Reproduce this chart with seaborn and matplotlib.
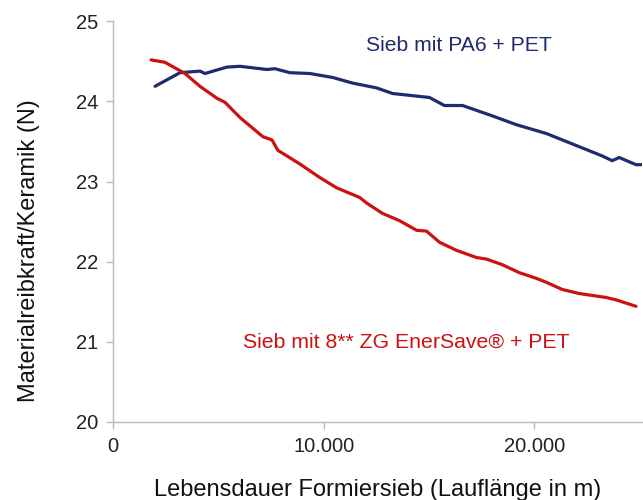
import numpy as np
import pandas as pd
import seaborn as sns
import matplotlib.pyplot as plt

# Lauflänge (m) and Materialreibkraft (N)
pa6_x = [1990, 3175, 4120, 4360, 5400, 6020, 7300, 7680, 8390, 9340, 10430,
         11370, 12510, 13270, 15020, 15730, 16590, 18010, 19150, 20570, 21800,
         23220, 23700, 24030, 24830, 25120]
pa6_y = [24.19, 24.36, 24.38, 24.35, 24.43, 24.44, 24.40, 24.41, 24.36, 24.35, 24.30,
         24.23, 24.17, 24.10, 24.05, 23.95, 23.95, 23.82, 23.71, 23.60, 23.47,
         23.32, 23.26, 23.30, 23.21, 23.21]

zg_x = [1800, 2460, 3410, 4120, 4930, 5310, 6020, 7110, 7540, 7820, 8860, 9810,
        10620, 11710, 12040, 12800, 13600, 14410, 14880, 15500, 16300, 17250,
        17730, 18480, 19290, 20090, 20570, 21330, 22130, 23410, 23890, 24360, 24830]
zg_y = [24.52, 24.49, 24.35, 24.19, 24.04, 23.99, 23.80, 23.56, 23.52, 23.39, 23.22, 23.05,
        22.92, 22.80, 22.73, 22.60, 22.51, 22.39, 22.38, 22.24, 22.14, 22.05,
        22.03, 21.96, 21.86, 21.79, 21.74, 21.65, 21.60, 21.55, 21.52, 21.48, 21.44]

x_ticks = [0, 10000, 20000]
x_tick_labels = ['0', '10.000', '20.000']
y_ticks = [20, 21, 22, 23, 24, 25]

sns.set_style('white')
plt.rcParams['font.family'] = ['Liberation Sans', 'DejaVu Sans']

blue = '#1f2b6c'
red = '#cc1111'

df = pd.concat([
    pd.DataFrame({'x': pa6_x, 'y': pa6_y, 'sieb': 'PA6'}),
    pd.DataFrame({'x': zg_x, 'y': zg_y, 'sieb': 'ZG'}),
])

fig = plt.figure(figsize=(6.43, 5.0), dpi=100)
ax = fig.add_axes([0.176, 0.157, 0.822, 0.8])

sns.lineplot(data=df, x='x', y='y', hue='sieb', palette={'PA6': blue, 'ZG': red},
             linewidth=2.3, legend=False, ax=ax)

ax.set_xlim(0, 25100)
ax.set_ylim(20, 25)
ax.set_xticks(x_ticks)
ax.set_xticklabels(x_tick_labels)
ax.set_yticks(y_ticks)

for side in ['top', 'right']:
    ax.spines[side].set_visible(False)
for side in ['left', 'bottom']:
    ax.spines[side].set_color('#bbbbbb')
    ax.spines[side].set_linewidth(1)

ax.tick_params(axis='both', length=5, width=1, color='#bbbbbb', labelsize=14.5,
               labelcolor='#222222', left=True, bottom=True, pad=6)

ax.set_xlabel('Lebensdauer Formiersieb (Lauflänge in m)', fontsize=17, labelpad=17,
              color='#111111')
ax.set_ylabel('Materialreibkraft/Keramik (N)', fontsize=17, color='#111111')
ax.yaxis.set_label_coords(-0.138, 0.4275)

ax.text(0.655, 0.94, 'Sieb mit PA6 + PET', transform=ax.transAxes, color=blue,
        fontsize=15.2, ha='center', va='center')
ax.text(0.555, 0.1975, 'Sieb mit 8** ZG EnerSave® + PET', transform=ax.transAxes, color=red,
        fontsize=15.3, ha='center', va='center')

fig.savefig('out.png', dpi=100)
plt.close(fig)
